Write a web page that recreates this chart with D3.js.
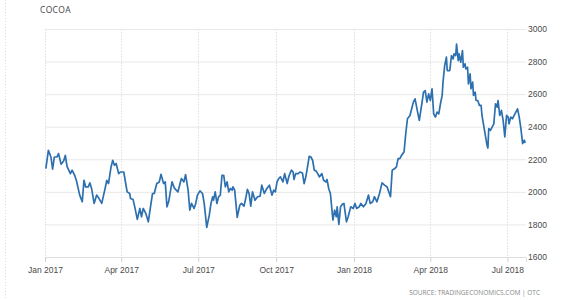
<!DOCTYPE html>
<html><head><meta charset="utf-8">
<script src="https://cdn.jsdelivr.net/npm/d3@7"></script>
<style>body{margin:0;background:#fff;} svg{display:block;font-family:"Open Sans",sans-serif;}</style>
</head><body>
<svg id="c" width="580" height="300"></svg>
<script>
const title = "COCOA";
const source = "SOURCE: TRADINGECONOMICS.COM | OTC";
const dates = [
"2017-01-02","2017-01-05","2017-01-08","2017-01-10","2017-01-12","2017-01-15","2017-01-17","2017-01-20","2017-01-23","2017-01-25",
"2017-01-27","2017-01-31","2017-02-02","2017-02-05","2017-02-07","2017-02-11","2017-02-14","2017-02-16","2017-02-18","2017-02-21",
"2017-02-23","2017-02-25","2017-02-28","2017-03-03","2017-03-05","2017-03-09","2017-03-13","2017-03-15","2017-03-17","2017-03-20",
"2017-03-22","2017-03-24","2017-03-26","2017-03-29","2017-03-31","2017-04-04","2017-04-08","2017-04-11","2017-04-12","2017-04-15",
"2017-04-17","2017-04-20","2017-04-23","2017-04-25","2017-04-27","2017-04-30","2017-05-03","2017-05-05","2017-05-08","2017-05-10",
"2017-05-13","2017-05-16","2017-05-18","2017-05-21","2017-05-23","2017-05-25","2017-05-27","2017-05-31","2017-06-03","2017-06-07",
"2017-06-09","2017-06-11","2017-06-14","2017-06-16","2017-06-19","2017-06-21","2017-06-23","2017-06-26","2017-06-28","2017-06-30",
"2017-07-03","2017-07-06","2017-07-08","2017-07-11","2017-07-14","2017-07-16","2017-07-18","2017-07-19","2017-07-21","2017-07-23",
"2017-07-25","2017-07-27","2017-07-29","2017-07-31","2017-08-02","2017-08-04","2017-08-06","2017-08-08","2017-08-10","2017-08-11",
"2017-08-13","2017-08-16","2017-08-19","2017-08-21","2017-08-24","2017-08-26","2017-08-28","2017-08-30","2017-09-01","2017-09-03",
"2017-09-06","2017-09-09","2017-09-12","2017-09-14","2017-09-17","2017-09-20","2017-09-23","2017-09-26","2017-09-28","2017-09-30",
"2017-10-02","2017-10-04","2017-10-06","2017-10-09","2017-10-11","2017-10-14","2017-10-16","2017-10-19","2017-10-21","2017-10-22",
"2017-10-24","2017-10-27","2017-10-29","2017-11-01","2017-11-03","2017-11-05","2017-11-07","2017-11-09","2017-11-11","2017-11-13",
"2017-11-15","2017-11-17","2017-11-19","2017-11-21","2017-11-24","2017-11-26","2017-11-29","2017-11-30","2017-12-02","2017-12-04",
"2017-12-07","2017-12-09","2017-12-11","2017-12-12","2017-12-14","2017-12-16","2017-12-18","2017-12-20","2017-12-23","2017-12-25",
"2017-12-28","2017-12-31","2018-01-02","2018-01-04","2018-01-07","2018-01-09","2018-01-12","2018-01-15","2018-01-18","2018-01-20",
"2018-01-23","2018-01-25","2018-01-28","2018-01-31","2018-02-03","2018-02-06","2018-02-09","2018-02-11","2018-02-13","2018-02-15",
"2018-02-18","2018-02-20","2018-02-22","2018-02-24","2018-02-26","2018-03-01","2018-03-03","2018-03-05","2018-03-08","2018-03-10",
"2018-03-12","2018-03-14","2018-03-17","2018-03-19","2018-03-22","2018-03-24","2018-03-26","2018-03-28","2018-03-30","2018-04-01",
"2018-04-03","2018-04-05","2018-04-07","2018-04-09","2018-04-11","2018-04-13","2018-04-15","2018-04-16","2018-04-18","2018-04-20",
"2018-04-21","2018-04-24","2018-04-26","2018-04-28","2018-04-29","2018-05-01","2018-05-02","2018-05-04","2018-05-05","2018-05-07",
"2018-05-09","2018-05-10","2018-05-12","2018-05-13","2018-05-15","2018-05-16","2018-05-18","2018-05-19","2018-05-21","2018-05-22",
"2018-05-24","2018-05-25","2018-05-27","2018-05-29","2018-05-31","2018-06-01","2018-06-03","2018-06-05","2018-06-07","2018-06-08",
"2018-06-09","2018-06-11","2018-06-13","2018-06-15","2018-06-17","2018-06-19","2018-06-20","2018-06-22","2018-06-24","2018-06-26",
"2018-06-28","2018-06-30","2018-07-02","2018-07-03","2018-07-05","2018-07-07","2018-07-09","2018-07-11","2018-07-13","2018-07-15",
"2018-07-17","2018-07-19","2018-07-21","2018-07-22"
];
const prices = [
2143,2255,2214,2139,2214,2214,2235,2170,2190,2224,
2157,2112,2133,2102,2071,1980,1939,2071,2030,2030,
2055,2021,1929,1980,1966,1929,2021,2071,2051,2153,
2194,2163,2174,2112,2122,2122,2000,1990,1959,1953,
1908,1831,1898,1847,1898,1868,1816,1888,1990,1990,
2051,2061,2108,2051,2061,1908,1939,2061,2021,2000,
2041,2082,2061,2106,2010,1888,1929,1898,1929,1980,
2006,1990,1929,1782,1857,1929,1970,1949,2000,1929,
1970,1980,2102,2102,2031,2061,2000,2021,2010,2031,
2010,1843,1918,1929,1912,1959,2015,1990,1912,2000,
1949,1970,1974,2041,1990,2021,2041,1980,2010,2000,
2061,2082,2092,2061,2112,2051,2096,2133,2122,2076,
2112,2112,2122,2116,2051,2092,2153,2218,2214,2194,
2133,2129,2112,2092,2112,2071,2061,2076,2021,1990,
1827,1888,1847,1908,1800,1908,1924,1929,1816,1847,
1908,1898,1929,1898,1908,1929,1908,1929,1980,1929,
1939,1970,1939,1990,2055,2041,2030,2000,1970,2133,
2143,2153,2204,2204,2224,2245,2357,2449,2469,2510,
2551,2571,2490,2439,2541,2612,2622,2551,2602,2561,
2633,2479,2459,2490,2479,2541,2592,2674,2776,2827,
2745,2745,2837,2816,2847,2837,2908,2806,2847,2796,
2867,2765,2786,2755,2765,2663,2725,2633,2674,2592,
2612,2561,2561,2531,2531,2469,2408,2347,2286,2269,
2388,2378,2398,2418,2541,2520,2561,2469,2500,2439,
2337,2469,2459,2418,2459,2449,2469,2490,2510,2459,
2388,2296,2317,2300
];
const yTicks = [1600,1800,2000,2200,2400,2600,2800,3000];
const xTickDates = ["2017-01-01","2017-04-01","2017-07-01","2017-10-01","2018-01-01","2018-04-01","2018-07-01"];
const xTickLabels = ["Jan 2017","Apr 2017","Jul 2017","Oct 2017","Jan 2018","Apr 2018","Jul 2018"];

const parse = d3.utcParse("%Y-%m-%d");
const data = dates.map((d,i)=>({date:parse(d), value:prices[i]}));

const svg = d3.select("#c");
const L = 45, R = 526, T = 29, B = 257;
const x = d3.scaleUtc().domain([parse("2017-01-01"), parse("2018-07-23")]).range([L, R]);
const y = d3.scaleLinear().domain([1600, 3000]).range([B, T]);

// outer dotted border
svg.append("line").attr("x1",5.5).attr("x2",5.5).attr("y1",0).attr("y2",300)
  .attr("stroke","#dcdcdc").attr("stroke-dasharray","1,2");

// horizontal gridlines + y labels (right side)
const yAxis = d3.axisRight(y).tickValues(yTicks).tickSize(-(R-L)).tickPadding(3).tickFormat(d3.format("d"));
const gy = svg.append("g").attr("transform",`translate(${R},0)`).call(yAxis);
gy.select(".domain").remove();
gy.selectAll(".tick line").attr("stroke","#e8e8e8").attr("stroke-width",1);
gy.selectAll(".tick text").attr("fill","#4a4a4a").attr("font-size","8.5px").attr("x",2);

// vertical gridlines
const xd = xTickDates.map(parse);
svg.append("g").selectAll("line").data(xd).join("line")
  .attr("x1",d=>Math.round(x(d))+0.5).attr("x2",d=>Math.round(x(d))+0.5)
  .attr("y1",T).attr("y2",B)
  .attr("stroke","#e6e6e6").attr("stroke-dasharray","2,1");

// x axis
const xAxis = d3.axisBottom(x).tickValues(xd).tickSize(5).tickPadding(5)
  .tickFormat((d,i)=>xTickLabels[i]);
const gx = svg.append("g").attr("transform",`translate(0,${B})`).call(xAxis);
gx.select(".domain").attr("stroke","#dedede");
gx.selectAll(".tick line").attr("stroke","#d0d0d0");
gx.selectAll(".tick text").attr("fill","#4a4a4a").attr("font-size","8.5px");

// line
const line = d3.line().x(d=>x(d.date)).y(d=>y(d.value));
svg.append("path").datum(data).attr("d",line)
  .attr("fill","none").attr("stroke","#2c70b0").attr("stroke-width",1.7).attr("stroke-linejoin","round");

// title
svg.append("text").attr("x",40).attr("y",13).attr("font-size","8.5px").attr("fill","#444")
  .attr("letter-spacing","0.3px").text(title);
// source
svg.append("text").attr("x",540).attr("y",295).attr("text-anchor","end")
  .attr("font-size","6.5px").attr("fill","#888").text(source);
</script>
</body></html>
